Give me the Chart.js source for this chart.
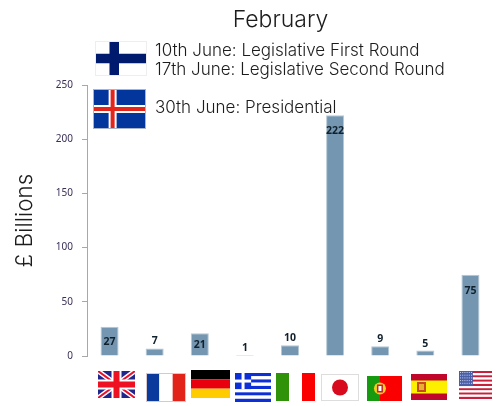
<!DOCTYPE html>
<html><head><meta charset="utf-8">
<style>html,body{margin:0;padding:0;background:#fff}#w{width:496px;height:406px;position:relative}</style>
<script src="https://cdn.jsdelivr.net/npm/chart.js@4"></script></head>
<body><div id="w"><canvas id="c" width="496" height="406"></canvas></div>
<script>
const categories = ["UK","France","Germany","Greece","Italy","Japan","Portugal","Spain","USA"];
const values = [27,7,21,1,10,222,9,5,75];
const yTicks = [0,50,100,150,200,250];
const titleText = "February";
const axisTitle = "£ Billions";
const noteLines = ["10th June: Legislative First Round","17th June: Legislative Second Round","30th June: Presidential"];
const textFont = 'Inter, "Open Sans", sans-serif';
const smallFont = '"Noto Sans", sans-serif';

function bands(ctx,x,y,w,h,cols,vertical){
  cols.forEach((c,i)=>{ctx.fillStyle=c;
    if(vertical) ctx.fillRect(x+w*i/cols.length,y,w/cols.length,h);
    else ctx.fillRect(x,y+h*i/cols.length,w,h/cols.length);});
}
function nordic(ctx,x,y,w,h,bg,c1,c2,t1,t2){
  ctx.fillStyle=bg;ctx.fillRect(x,y,w,h);
  const cx=x+w*0.37;
  ctx.fillStyle=c1;ctx.fillRect(cx-t1/2,y,t1,h);ctx.fillRect(x,y+h/2-t1/2,w,t1);
  if(c2){ctx.fillStyle=c2;ctx.fillRect(cx-t2/2,y,t2,h);ctx.fillRect(x,y+h/2-t2/2,w,t2);}
}
const flags = {
  uk(ctx,x,y,w,h){
    ctx.fillStyle="#22268c";ctx.fillRect(x,y,w,h);
    ctx.save();ctx.beginPath();ctx.rect(x,y,w,h);ctx.clip();
    ctx.strokeStyle="#fff";ctx.lineWidth=5;ctx.beginPath();ctx.moveTo(x,y);ctx.lineTo(x+w,y+h);ctx.moveTo(x+w,y);ctx.lineTo(x,y+h);ctx.stroke();
    ctx.strokeStyle="#e8112d";ctx.lineWidth=2;ctx.stroke();
    ctx.fillStyle="#fff";ctx.fillRect(x+w/2-5,y,10,h);ctx.fillRect(x,y+h/2-5,w,10);
    ctx.fillStyle="#ee1122";ctx.fillRect(x+w/2-3,y,6,h);ctx.fillRect(x,y+h/2-3,w,6);
    ctx.restore();
  },
  fr(ctx,x,y,w,h){bands(ctx,x,y,w,h,["#0a3a9c","#fff","#e2231a"],true);ctx.strokeStyle="#d8c8cc";ctx.strokeRect(x+.5,y+.5,w-1,h-1);},
  de(ctx,x,y,w,h){bands(ctx,x,y,w,h,["#000","#e8000f","#ffcc00"]);},
  gr(ctx,x,y,w,h){
    bands(ctx,x,y,w,h,["#0d2fd8","#fff","#0d2fd8","#fff","#0d2fd8","#fff","#0d2fd8","#fff","#0d2fd8"]);
    const s=h*5/9;ctx.fillStyle="#0d2fd8";ctx.fillRect(x,y,s,s);
    ctx.fillStyle="#fff";ctx.fillRect(x+s/2-1.5,y,3,s);ctx.fillRect(x,y+s/2-1.5,s,3);
  },
  it(ctx,x,y,w,h){bands(ctx,x,y,w,h,["#2f9208","#fff","#fa0000"],true);},
  jp(ctx,x,y,w,h){ctx.fillStyle="#fff";ctx.fillRect(x,y,w,h);ctx.strokeStyle="#ddd";ctx.strokeRect(x+.5,y+.5,w-1,h-1);
    ctx.fillStyle="#d80a1e";ctx.beginPath();ctx.arc(x+w/2,y+h/2,8,0,Math.PI*2);ctx.fill();},
  pt(ctx,x,y,w,h){ctx.fillStyle="#fa0000";ctx.fillRect(x,y,w,h);ctx.fillStyle="#159a10";ctx.fillRect(x,y,w*0.37,h);
    const cx=x+w*0.37,cy=y+h/2;
    ctx.fillStyle="#f0d020";ctx.beginPath();ctx.arc(cx,cy,6,0,Math.PI*2);ctx.fill();
    ctx.fillStyle="#c8202a";ctx.fillRect(cx-3,cy-4,6,8);ctx.fillStyle="#fff";ctx.fillRect(cx-1.5,cy-2.5,3,5);},
  es(ctx,x,y,w,h){ctx.fillStyle="#c1062c";ctx.fillRect(x,y,w,h);ctx.fillStyle="#fcf000";ctx.fillRect(x,y+h/4,w,h/2);
    ctx.fillStyle="#c84a20";ctx.fillRect(x+6,y+h/2-5,9,10);ctx.fillStyle="#e8b030";ctx.fillRect(x+8,y+h/2-3,5,6);},
  us(ctx,x,y,w,h){
    const st=[];for(let i=0;i<13;i++)st.push(i%2?"#fff":"#c8203c");bands(ctx,x,y,w,h,st);
    const cw=w*0.42,ch=h*7/13;ctx.fillStyle="#4a5ea8";ctx.fillRect(x,y,cw,ch);
    ctx.fillStyle="#c8d0ea";for(let r=0;r<5;r++)for(let q=0;q<6;q++)ctx.fillRect(x+1+q*2.2,y+1+r*2.7,1,1);
  }
};
const flagPlugin = {
  id:"extras",
  afterDraw(chart){
    const ctx=chart.ctx;ctx.save();
    // Finland (cropped top and bottom, pale hairline frame)
    nordic(ctx,95,41,52,35,"#fff","#001a6e",null,9.5);
    ctx.strokeStyle="#eee";ctx.strokeRect(95.5,41.5,51,34);
    // Iceland
    nordic(ctx,93,89,53,40,"#02369c","#fff","#e2261c",8,4);
    ctx.strokeStyle="#a8b4cc";ctx.strokeRect(93.5,89.5,52,39);
    flags.uk(ctx,98,371,37,27);
    flags.fr(ctx,146,373,40,29);
    flags.de(ctx,191,370,39,28);
    flags.gr(ctx,235,373,36,29);
    flags.it(ctx,276,373,39,28);
    flags.jp(ctx,321,374,38,27);
    flags.pt(ctx,367,376,35,25);
    flags.es(ctx,411,374,36,26);
    flags.us(ctx,459,371,33,28);
    // Title and election notes
    ctx.fillStyle="#1c1c1c";ctx.textBaseline="alphabetic";ctx.textAlign="center";
    ctx.font='300 23px '+textFont;ctx.fillText(titleText,280.5,27);
    ctx.textAlign="left";ctx.font='300 17px '+textFont;
    ctx.fillText(noteLines[0],155,56);
    ctx.fillText(noteLines[1],155,75);
    ctx.fillText(noteLines[2],155,113);
    // Value labels
    ctx.font='700 10.5px '+smallFont;ctx.fillStyle="#10202c";ctx.textAlign="center";ctx.textBaseline="middle";
    chart.getDatasetMeta(0).data.forEach((bar,i)=>{
      const v=values[i];
      const h=bar.base-bar.y;
      let y;
      if(h>20) y=Math.min(bar.y+16,(bar.y+bar.base)/2+1);
      else y=bar.y-7;
      ctx.fillText(String(v),bar.x,y);
    });
    ctx.restore();
  }
};
new Chart(document.getElementById("c"),{
  type:"bar",
  data:{labels:categories,datasets:[{data:values,backgroundColor:"#7596b0",borderColor:"#b4c8d6",borderWidth:1,categoryPercentage:1,barPercentage:0.4}]},
  plugins:[flagPlugin],
  options:{
    responsive:false,animation:false,
    layout:{padding:{top:85,bottom:50,left:0,right:3}},
    plugins:{legend:{display:false},tooltip:{enabled:false},title:{display:false}},
    scales:{
      x:{ticks:{display:false},grid:{display:false},border:{display:false},afterFit(s){s.height=0;}},
      y:{min:0,max:250,
        afterBuildTicks(s){s.ticks=yTicks.map(v=>({value:v}));},
        afterFit(s){s.width=87;},
        ticks:{font:{family:smallFont,size:10},color:"#3a2f55",padding:9},
        grid:{drawOnChartArea:false,color:"#a8a8a8",tickLength:5},
        border:{color:"#a8a8a8",width:1},
        title:{display:true,text:axisTitle,font:{family:textFont,size:22.5,weight:"300"},color:"#1c1c1c",padding:{top:12,bottom:0}}
      }
    }
  }
});
</script></body></html>
